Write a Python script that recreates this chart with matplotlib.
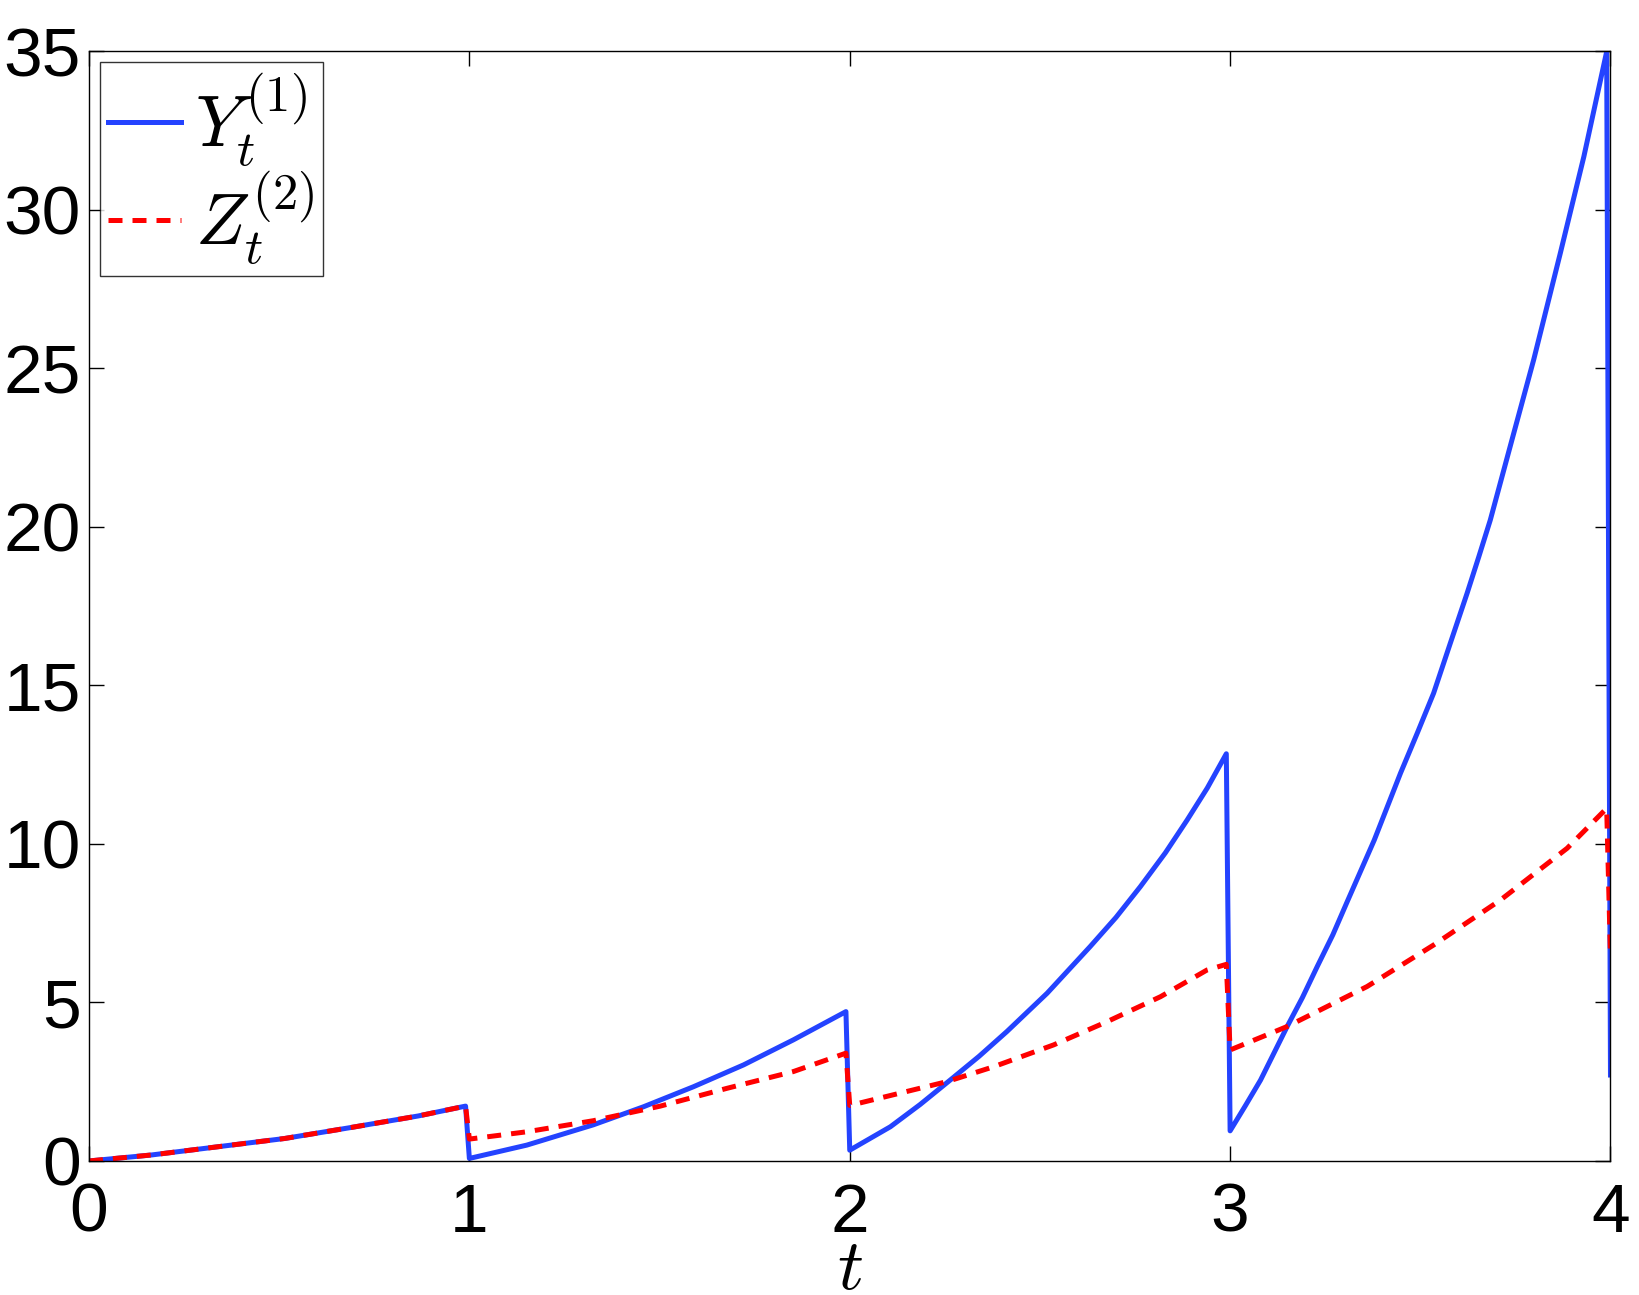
import numpy as np
import matplotlib
matplotlib.use("Agg")
import matplotlib.pyplot as plt

plt.rcParams['font.family'] = ['Liberation Sans', 'DejaVu Sans']
plt.rcParams['mathtext.fontset'] = 'cm'

# values
t_y = [0, 0.165, 0.34, 0.515, 0.691, 0.866, 0.99,
       1.0, 1.151, 1.326, 1.458, 1.589, 1.721, 1.852, 1.99,
       2.0, 2.107, 2.185, 2.264, 2.34, 2.413, 2.519, 2.632, 2.70, 2.764,
       2.83, 2.887, 2.94, 2.99,
       3.0, 3.04, 3.08, 3.15, 3.19, 3.229, 3.27, 3.308, 3.379, 3.448,
       3.492, 3.535, 3.579, 3.623, 3.654, 3.684, 3.741, 3.798, 3.868,
       3.93, 3.99, 4.0]
y1 = [0, 0.19, 0.45, 0.71, 1.06, 1.42, 1.73,
      0.08, 0.50, 1.14, 1.71, 2.34, 3.03, 3.82, 4.71,
      0.34, 1.08, 1.78, 2.55, 3.30, 4.08, 5.29, 6.76, 7.68, 8.65,
      9.72, 10.75, 11.76, 12.84,
      0.95, 1.74, 2.55, 4.24, 5.15, 6.13, 7.13, 8.18, 10.12, 12.23,
      13.49, 14.75, 16.33, 17.90, 19.06, 20.21, 22.74, 25.26, 28.62,
      31.67, 34.98, 2.71]

t_z = [0, 0.165, 0.34, 0.515, 0.691, 0.866, 0.99,
       1.0, 1.151, 1.326, 1.502, 1.677, 1.852, 1.99,
       2.0, 2.255, 2.378, 2.536, 2.676, 2.817, 2.939, 2.99,
       3.0, 3.15, 3.36, 3.535, 3.711, 3.886, 3.99, 4.0]
z2 = [0, 0.19, 0.45, 0.71, 1.06, 1.42, 1.73,
      0.69, 0.92, 1.27, 1.73, 2.29, 2.82, 3.40,
      1.75, 2.50, 2.97, 3.66, 4.39, 5.18, 6.02, 6.20,
      3.50, 4.24, 5.50, 6.81, 8.23, 9.86, 11.12, 6.44]

xticks = [0, 1, 2, 3, 4]
yticks = [0, 5, 10, 15, 20, 25, 30, 35]

fig = plt.figure(figsize=(16.39, 12.95), dpi=100)
ax = fig.add_axes([0.0543, 0.1035, 0.9283, 0.8571])

ax.plot(t_y, y1, color='#2443ff', lw=3.6, label=r'$Y_t^{(1)}$')
ax.plot(t_z, z2, color='#ff0000', lw=3.6, linestyle=(0, (2.8, 2.0)),
        label=r'$Z_t^{(2)}$')

ax.set_xlim(0, 4)
ax.set_ylim(0, 35)
ax.set_xticks(xticks)
ax.set_yticks(yticks)
ax.tick_params(direction='in', top=True, right=True, length=11, width=1,
               labelsize=50)
ax.tick_params(axis='x', pad=15)
ax.tick_params(axis='y', pad=6)
for s in ax.spines.values():
    s.set_linewidth(1)
ax.set_xlabel(r'$t$', fontsize=52, labelpad=-6)

leg = ax.legend(loc='upper left', fontsize=52, frameon=True, fancybox=False,
                edgecolor='black', handlelength=1.0, handletextpad=0.2,
                borderpad=0.12, labelspacing=0.0, borderaxespad=0.15)
leg.get_frame().set_linewidth(1)

fig.savefig('out.png', dpi=100)
